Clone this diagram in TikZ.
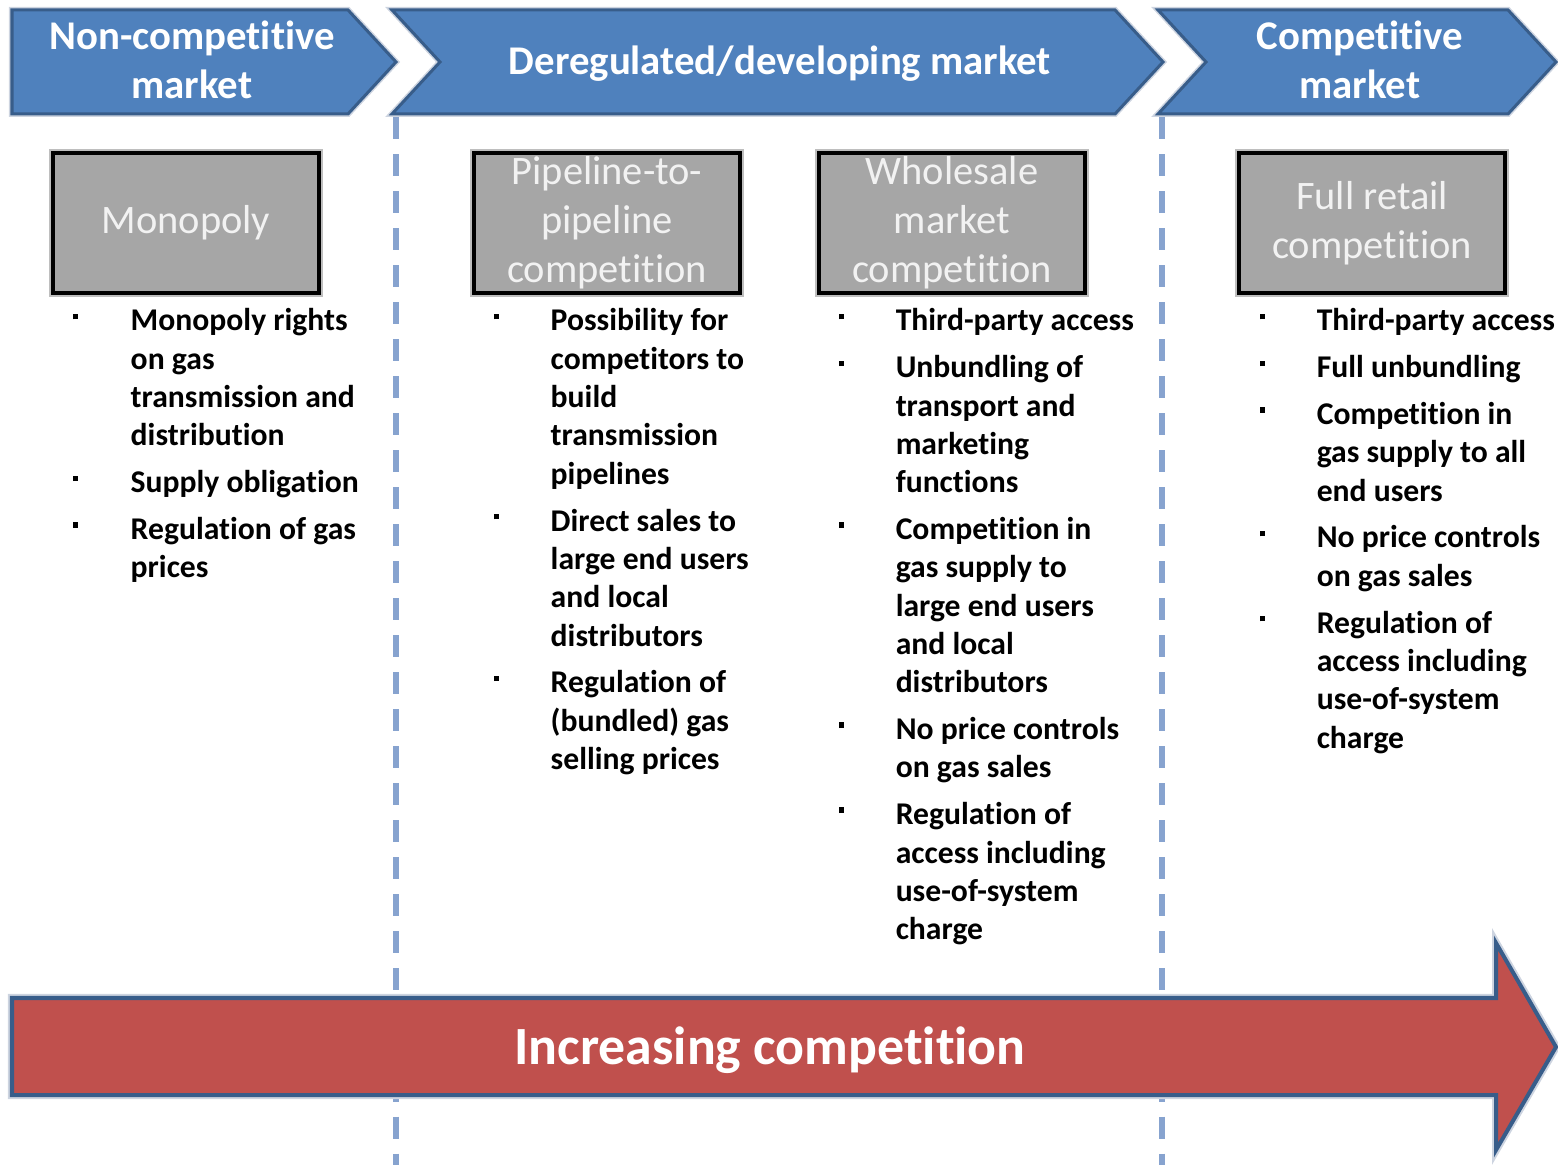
\documentclass[tikz,border=0pt]{standalone}
\usepackage{fontspec}
\setmainfont{Carlito}[Ligatures=NoCommon]
\usetikzlibrary{arrows.meta}

\definecolor{chevblue}{RGB}{79,129,189}
\definecolor{chevedge}{RGB}{56,93,138}
\definecolor{glow}{RGB}{205,212,224}
\definecolor{boxgray}{RGB}{166,166,166}
\definecolor{boxrim}{RGB}{190,190,190}
\definecolor{boxtext}{RGB}{242,242,242}
\definecolor{arrowred}{RGB}{192,80,77}
\definecolor{dashblue}{RGB}{135,163,207}

\newcommand{\bul}{\rule[3.3pt]{1.6pt}{1.6pt}}

\begin{document}
\begin{tikzpicture}[x=0.01cm,y=-0.01cm]
			\tikzset{chevron/.style = {fill=chevblue, draw=chevedge, line width=0.03cm,
					preaction={draw=glow, line width=0.06cm}}}
			\tikzset{chevtext/.style = {text=white, align=center, inner sep=0pt,
					font=\bfseries\fontsize{11.6}{14}\selectfont}}
			\tikzset{stagebox/.style = {shape=rectangle, fill=boxgray, draw=black,
					line width=0.04cm, minimum width=2.65cm, minimum height=1.39cm,
					inner sep=0pt, align=center, text=boxtext,
					font=\fontsize{11.5}{13.9}\selectfont,
					preaction={draw=boxrim, line width=0.08cm}}}
			\tikzset{itemlist/.style = {anchor=base west, inner sep=0pt,
					font=\bfseries\fontsize{9}{10.9}\selectfont}}
			\tikzset{divider/.style = {draw=dashblue, line width=0.06cm,
					dash pattern=on 0.22cm off 0.15cm}}
			\tikzset{bigarrow/.style = {fill=arrowred, draw=chevedge, line width=0.04cm,
					preaction={draw=glow, line width=0.08cm}}}
			\tikzset{arrowtext/.style = {text=white, inner sep=0pt,
					font=\bfseries\fontsize{15.3}{18}\selectfont}}

			\useasboundingbox (0,0) rectangle (1558,1165);

			% dividers
			\coordinate (d1top) at (396,117);
			\coordinate (d1bot) at (396,1165);
			\coordinate (d2top) at (1162,117);
			\coordinate (d2bot) at (1162,1165);
			\draw[divider] (d1top) -- (d1bot);
			\draw[divider] (d2top) -- (d2bot);

			% chevrons
			\draw[chevron] (12,10) -- (348,10) -- (396,62) -- (348,114) -- (12,114) -- cycle;
			\draw[chevron] (392,10) -- (1115,10) -- (1163,62) -- (1115,114) -- (392,114) -- (440,62) -- cycle;
			\draw[chevron] (1158,10) -- (1508,10) -- (1556,62) -- (1508,114) -- (1158,114) -- (1206,62) -- cycle;
			\node[chevtext] (nc) at (192,60) {Non-competitive\\market};
			\node[chevtext] (dm) at (780,64) {Deregulated/developing market};
			\node[chevtext] (cm) at (1360,60) {Competitive\\market};

			% stages
			\node[stagebox] (mono) at (186,223) {Monopoly};
			\node[stagebox] (pipe) at (607,223) {Pipeline-to-\\pipeline\\competition};
			\node[stagebox] (whole) at (952,223) {Wholesale\\market\\competition};
			\node[stagebox] (retail) at (1372,223) {Full retail\\competition};

			% features
			\node[itemlist] (monolist) at (72,331) {\begin{tabular}[t]{@{}p{0.58cm}@{}l@{}}
				\bul & Monopoly rights\\
				& on gas\\
				& transmission and\\
				& distribution\\[2.4pt]
				\bul & Supply obligation\\[2.4pt]
				\bul & Regulation of gas\\
				& prices
			\end{tabular}};
			\node[itemlist] (pipelist) at (493,331) {\begin{tabular}[t]{@{}p{0.57cm}@{}l@{}}
				\bul & Possibility for\\
				& competitors to\\
				& build\\
				& transmission\\
				& pipelines\\[2.4pt]
				\bul & Direct sales to\\
				& large end users\\
				& and local\\
				& distributors\\[2.4pt]
				\bul & Regulation of\\
				& (bundled) gas\\
				& selling prices
			\end{tabular}};
			\node[itemlist] (wholelist) at (838,331) {\begin{tabular}[t]{@{}p{0.57cm}@{}l@{}}
				\bul & Third-party access\\[2.4pt]
				\bul & Unbundling of\\
				& transport and\\
				& marketing\\
				& functions\\[2.4pt]
				\bul & Competition in\\
				& gas supply to\\
				& large end users\\
				& and local\\
				& distributors\\[2.4pt]
				\bul & No price controls\\
				& on gas sales\\[2.4pt]
				\bul & Regulation of\\
				& access including\\
				& use-of-system\\
				& charge
			\end{tabular}};
			\node[itemlist] (retaillist) at (1259,331) {\begin{tabular}[t]{@{}p{0.57cm}@{}l@{}}
				\bul & Third-party access\\[2.4pt]
				\bul & Full unbundling\\[2.4pt]
				\bul & Competition in\\
				& gas supply to all\\
				& end users\\[2.4pt]
				\bul & No price controls\\
				& on gas sales\\[2.4pt]
				\bul & Regulation of\\
				& access including\\
				& use-of-system\\
				& charge
			\end{tabular}};

			% arrow
			\draw[bigarrow] (12,998) -- (1496,998) -- (1496,943) -- (1556,1047)
				-- (1496,1150) -- (1496,1095) -- (12,1095) -- cycle;
			\node[arrowtext] (incr) at (770,1050) {Increasing competition};

\end{tikzpicture}
\end{document}
